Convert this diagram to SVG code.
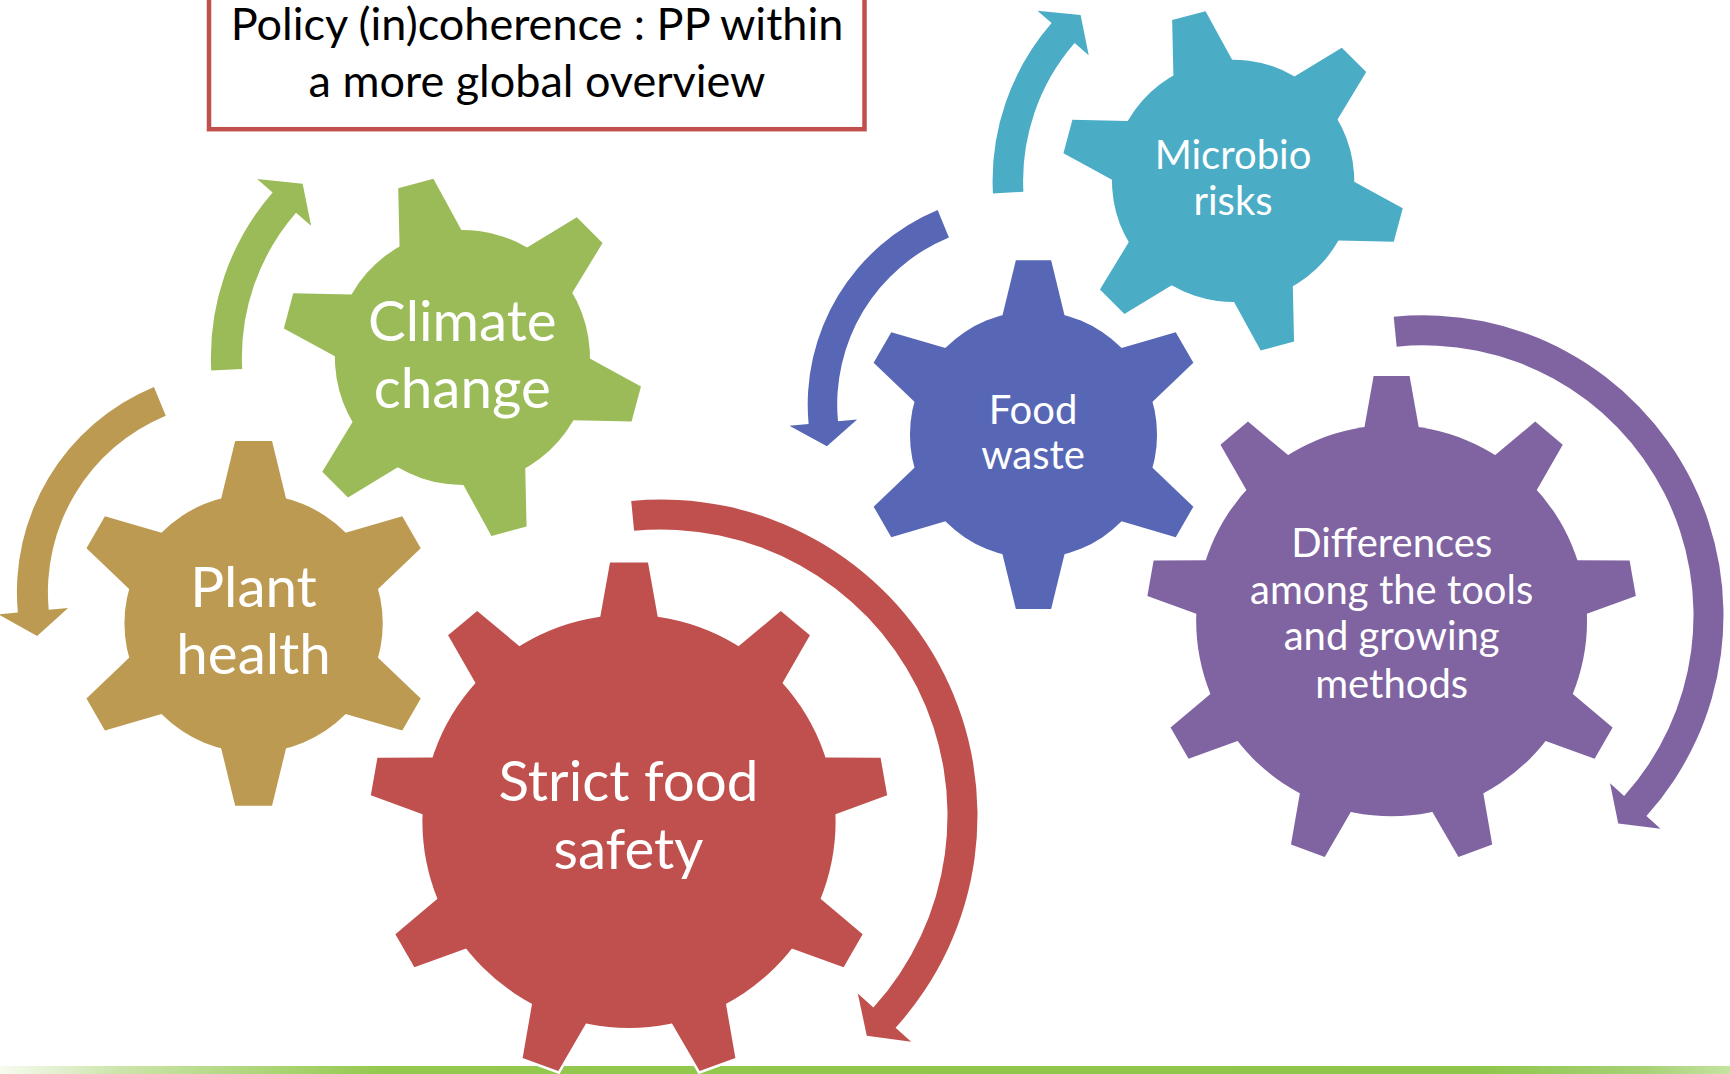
<svg xmlns="http://www.w3.org/2000/svg" width="1730" height="1074" viewBox="0 0 1730 1074">
<style>
.lbl{font-family:Lato,"Open Sans","Liberation Sans",sans-serif;fill:#fff;text-anchor:middle}
.big{font-size:56.5px}
.sm{font-size:40px}
.ttl{font-family:Lato,"Open Sans","Liberation Sans",sans-serif;fill:#000;text-anchor:middle;font-size:45px}
.halo{fill:#fff;stroke:#fff;stroke-width:5}
.c-brown{fill:#BC9A52}
.c-green{fill:#9BBB59}
.c-red{fill:#C0504D}
.c-teal{fill:#4BACC6}
.c-blue{fill:#5767B5}
.c-purple{fill:#8064A2}
</style>
<defs>
<linearGradient id="barGrad" x1="0" y1="0" x2="1" y2="0">
<stop offset="0" stop-color="#F7FBF0"/>
<stop offset="0.07" stop-color="#CBE4AA"/>
<stop offset="0.22" stop-color="#94C84F"/>
<stop offset="0.85" stop-color="#8EC54A"/>
<stop offset="0.95" stop-color="#A6D176"/>
<stop offset="1" stop-color="#C5E3A0"/>
</linearGradient>
<path id="t6" d="M-32,-116 L-32,-123.4 L-18.2,-180 L18.2,-180 L32,-123.4 L32,-116 Z"/>
<g id="gear6">
<circle r="127.5"/>
<use href="#t6"/>
<use href="#t6" transform="rotate(60)"/>
<use href="#t6" transform="rotate(120)"/>
<use href="#t6" transform="rotate(180)"/>
<use href="#t6" transform="rotate(240)"/>
<use href="#t6" transform="rotate(300)"/>
</g>
<path id="t9" d="M-28.7,-196 L-28.7,-204.6 L-19,-258.8 L19,-258.8 L28.7,-204.6 L28.7,-196 Z"/>
<g id="gear9">
<circle r="206.6"/>
<use href="#t9"/>
<use href="#t9" transform="rotate(40)"/>
<use href="#t9" transform="rotate(80)"/>
<use href="#t9" transform="rotate(120)"/>
<use href="#t9" transform="rotate(160)"/>
<use href="#t9" transform="rotate(200)"/>
<use href="#t9" transform="rotate(240)"/>
<use href="#t9" transform="rotate(280)"/>
<use href="#t9" transform="rotate(320)"/>
</g>
</defs>
<rect x="0" y="1066" width="1730" height="8" fill="url(#barGrad)"/>
<g id="title">
<rect x="209" y="-20" width="655.5" height="149.2" fill="#fff" stroke="#C0504D" stroke-width="4.5"/>
<text class="ttl" x="537" y="39.5">Policy (in)coherence : PP within</text>
<text class="ttl" x="537" y="96.5">a more global overview</text>
</g>
<g id="connectors">
<path class="c-green" d="M211.24,370.56 A251.5,251.5 0 0 1 272.59,192.4 L257.12,178.95 L302.66,183.68 L311.08,225.86 L295.99,212.74 A220.5,220.5 0 0 0 242.2,368.94 Z"/>
<path class="c-teal" d="M992.93,193.39 A240.5,240.5 0 0 1 1051.59,23.02 L1037.4,10.68 L1080.6,14.96 L1088.72,55.3 L1074.61,43.03 A210,210 0 0 0 1023.39,191.79 Z"/>
<path class="c-red" d="M631.21,500.95 A316,316 0 0 1 895.59,1027.76 L911.15,1041.87 L866.78,1035.64 L857.81,993.51 L873.37,1007.61 A286,286 0 0 0 634.09,530.82 Z"/>
<path class="c-purple" d="M1393.7,316.78 A300,300 0 0 1 1646.44,816.04 L1660.56,828.75 L1618.23,823.4 L1610.03,783.25 L1624.15,795.97 A270,270 0 0 0 1396.68,346.63 Z"/>
<path class="c-brown" d="M153.94,387 A222,222 0 0 0 17.85,612.61 L-1.57,614.41 L37.14,636.09 L68.13,607.94 L48.72,609.74 A191,191 0 0 1 165.81,415.64 Z"/>
<path class="c-blue" d="M937.65,210.12 A210.5,210.5 0 0 0 808.6,424.04 L789.39,425.83 L826.89,446.31 L857.09,419.55 L837.97,421.32 A181,181 0 0 1 948.93,237.38 Z"/>
</g>
<g id="node-plant-health">
<use href="#gear6" class="c-brown" transform="translate(253.6,623.4) scale(1.013)"/>
<text class="lbl big" x="253.6" y="607">Plant</text>
<text class="lbl big" x="253.6" y="674.4">health</text>
</g>
<g id="node-climate-change">
<use href="#gear6" class="c-green" transform="translate(462.4,357.4) rotate(-15)"/>
<text class="lbl big" x="462.3" y="341">Climate</text>
<text class="lbl big" x="462.3" y="408.3">change</text>
</g>
<g id="node-strict-food-safety">
<use href="#gear9" class="halo" transform="translate(629,821.4)"/>
<use href="#gear9" class="c-red" transform="translate(629,821.4)"/>
<text class="lbl big" x="628.5" y="800.7">Strict food</text>
<text class="lbl big" x="628.5" y="868.8">safety</text>
</g>
<g id="node-microbio-risks">
<use href="#gear6" class="c-teal" transform="translate(1233.1,180.8) rotate(-15) scale(0.95)"/>
<text class="lbl sm" x="1233" y="169.4">Microbio</text>
<text class="lbl sm" x="1233" y="215.1">risks</text>
</g>
<g id="node-food-waste">
<use href="#gear6" class="c-blue" transform="translate(1033.5,434.7) scale(0.969)"/>
<text class="lbl sm" x="1033" y="423.7">Food</text>
<text class="lbl sm" x="1033" y="469.4">waste</text>
</g>
<g id="node-differences">
<use href="#gear9" class="c-purple" transform="translate(1391.6,620.7) scale(0.946)"/>
<text class="lbl sm" x="1391.7" y="557.1">Differences</text>
<text class="lbl sm" x="1391.7" y="604.2">among the tools</text>
<text class="lbl sm" x="1391.7" y="650.1">and growing</text>
<text class="lbl sm" x="1391.7" y="698">methods</text>
</g>
</svg>
